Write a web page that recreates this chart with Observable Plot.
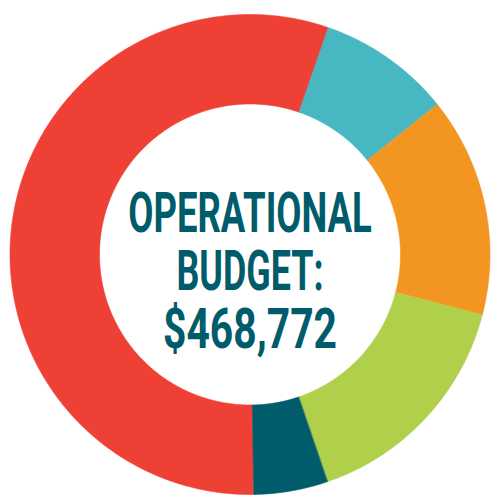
<!DOCTYPE html>
<html>
<head>
<meta charset="utf-8">
<script src="https://cdn.jsdelivr.net/npm/d3@7"></script>
<script src="https://cdn.jsdelivr.net/npm/@observablehq/plot@0.6"></script>
<style>
  html, body { margin: 0; padding: 0; background: #ffffff; }
  #chart { width: 493px; height: 495px; overflow: hidden; }
</style>
</head>
<body>
<div id="chart"></div>
<script>
// ---- data ----
const categories = ["Category A", "Category B", "Category C", "Category D", "Category E"];
const values = [260432, 41920, 69410, 73700, 23310];
const colors = ["#EE4035", "#47B7C1", "#F39521", "#B0D04C", "#005B6A"];
const centerLines = ["OPERATIONAL", "BUDGET:", "$468,772"];

// ---- layout (styling) ----
const W = 493, H = 495;
const innerRatio = 150.5 / 240;
const startDeg = 179.1;
const lineWidths = [243.5, 147, 174];

const pie = d3.pie().sort(null)
  .startAngle(startDeg * Math.PI / 180)
  .endAngle((startDeg + 360) * Math.PI / 180);
const arcs = pie(values);

// polygon vertices for each slice (outer arc forward, inner arc back)
const pts = [];
arcs.forEach((a, i) => {
  const n = Math.max(8, Math.ceil((a.endAngle - a.startAngle) / (Math.PI / 360)));
  for (let k = 0; k <= n; k++) {
    const t = a.startAngle + (a.endAngle - a.startAngle) * k / n;
    pts.push({cat: categories[i], x: Math.sin(t), y: Math.cos(t)});
  }
  for (let k = n; k >= 0; k--) {
    const t = a.startAngle + (a.endAngle - a.startAngle) * k / n;
    pts.push({cat: categories[i], x: innerRatio * Math.sin(t), y: innerRatio * Math.cos(t)});
  }
});

const lineStep = 58 / 240;
const firstBase = 0.0917;
const textData = centerLines.map((t, i) => ({t, x: 0, y: firstBase - i * lineStep}));

const chart = Plot.plot({
  width: W,
  height: H,
  margin: 0,
  x: {domain: [-249.5 / 240, 243.5 / 240], axis: null},
  y: {domain: [-241 / 240, 254 / 240], axis: null},
  color: {domain: categories, range: colors},
  style: {background: "#ffffff"},
  marks: [
    Plot.line(pts, {x: "x", y: "y", z: "cat", fill: "cat", stroke: "cat", strokeWidth: 0.6, curve: "linear-closed"}),
    Plot.text(textData, {
      x: "x", y: "y", text: "t",
      lineAnchor: "bottom", textAnchor: "middle",
      fill: "#005B6A", fontSize: 56, fontWeight: "bold",
      fontFamily: "Roboto, 'DejaVu Sans Condensed', sans-serif"
    })
  ]
});

d3.select(chart).selectAll("g[aria-label=text] text").each(function(d, i) {
  this.setAttribute("textLength", lineWidths[i]);
  this.setAttribute("lengthAdjust", "spacingAndGlyphs");
});

document.getElementById("chart").appendChild(chart);
</script>
</body>
</html>
